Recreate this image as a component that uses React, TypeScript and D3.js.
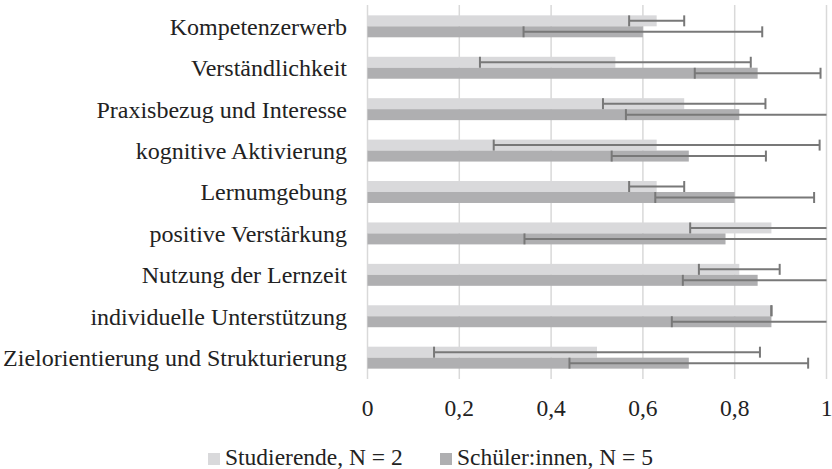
import React, { useEffect, useRef } from 'react';
import { scaleLinear, scaleBand, select } from 'd3';

const categories = [
	'Kompetenzerwerb',
	'Verständlichkeit',
	'Praxisbezug und Interesse',
	'kognitive Aktivierung',
	'Lernumgebung',
	'positive Verstärkung',
	'Nutzung der Lernzeit',
	'individuelle Unterstützung',
	'Zielorientierung und Strukturierung',
];
const seriesNames = ['Studierende, N = 2', 'Schüler:innen, N = 5'];
const studierende = [0.63, 0.54, 0.69, 0.63, 0.63, 0.88, 0.81, 0.88, 0.5];
const studierendeErr = [0.06, 0.295, 0.177, 0.355, 0.06, 0.177, 0.088, 0, 0.355];
const schueler = [0.6, 0.85, 0.81, 0.7, 0.8, 0.78, 0.85, 0.88, 0.7];
const schuelerErr = [0.26, 0.137, 0.247, 0.168, 0.173, 0.438, 0.163, 0.217, 0.26];
const tickValues = [0, 0.2, 0.4, 0.6, 0.8, 1];
const tickLabels = ['0', '0,2', '0,4', '0,6', '0,8', '1'];

const colors = ['#d9d9db', '#afafb1'];
const font =
	"'Times New Roman', Times, 'Liberation Serif', 'Nimbus Roman', 'Noto Serif', 'DejaVu Serif', FreeSerif, serif";

export default function App() {
	const node = useRef(null);

	useEffect(() => {
		const svg = select(node.current);
		svg.selectAll('*').remove();

		const x = scaleLinear().domain([0, 1]).range([367.5, 826.5]);
		const y = scaleBand()
			.domain(categories)
			.range([5, 379])
			.paddingInner(0.47)
			.paddingOuter(0.25);
		const sub = scaleBand().domain(seriesNames).range([0, y.bandwidth()]);

		// gridlines
		svg.append('g')
			.selectAll('line')
			.data(tickValues)
			.enter()
			.append('line')
			.attr('x1', (d) => x(d))
			.attr('x2', (d) => x(d))
			.attr('y1', 5)
			.attr('y2', 379)
			.attr('stroke', '#d9d9d9')
			.attr('stroke-width', 1.5);

		const series = [
			{ name: seriesNames[0], values: studierende, err: studierendeErr, color: colors[0] },
			{ name: seriesNames[1], values: schueler, err: schuelerErr, color: colors[1] },
		];

		series.forEach((s) => {
			svg.append('g')
				.selectAll('rect')
				.data(categories)
				.enter()
				.append('rect')
				.attr('x', x(0))
				.attr('y', (c) => y(c) + sub(s.name))
				.attr('width', (c, i) => x(s.values[i]) - x(0))
				.attr('height', sub.bandwidth())
				.attr('fill', s.color);
		});

		// error bars, clipped at 1 without a cap
		series.forEach((s) => {
			const g = svg.append('g').attr('stroke', '#787878').attr('stroke-width', 2);
			categories.forEach((c, i) => {
				const lo = s.values[i] - s.err[i];
				const hi = s.values[i] + s.err[i];
				const top = y(c) + sub(s.name);
				const cy = top + sub.bandwidth() / 2;
				g.append('line')
					.attr('x1', x(Math.max(0, lo)))
					.attr('x2', x(Math.min(1, hi)))
					.attr('y1', cy)
					.attr('y2', cy);
				[lo, hi].forEach((v) => {
					if (v < 0 || v > 1) return;
					g.append('line')
						.attr('x1', x(v))
						.attr('x2', x(v))
						.attr('y1', top)
						.attr('y2', top + sub.bandwidth());
				});
			});
		});

		const txt = (sel, size) =>
			sel.style('font-family', font).style('font-size', size + 'px').attr('fill', '#222');

		svg.append('g')
			.selectAll('text')
			.data(categories)
			.enter()
			.append('text')
			.attr('x', 347)
			.attr('y', (c) => y(c) + y.bandwidth() / 2)
			.attr('dy', '0.35em')
			.attr('text-anchor', 'end')
			.call(txt, 24)
			.text((c) => c);

		svg.append('g')
			.selectAll('text')
			.data(tickValues)
			.enter()
			.append('text')
			.attr('x', (d) => x(d))
			.attr('y', 407.5)
			.attr('dy', '0.35em')
			.attr('text-anchor', 'middle')
			.call(txt, 23.5)
			.text((d, i) => tickLabels[i]);

		// legend
		const legendX = [208, 440];
		const legend = svg.append('g');
		seriesNames.forEach((n, i) => {
			legend.append('rect')
				.attr('x', legendX[i])
				.attr('y', 453)
				.attr('width', 12)
				.attr('height', 12)
				.attr('fill', colors[i]);
			legend.append('text')
				.attr('x', legendX[i] + 17)
				.attr('y', 457)
				.attr('dy', '0.35em')
				.call(txt, 23.5)
				.text(n);
		});
	}, []);

	return (
		<svg
			ref={node}
			width={832}
			height={469}
			style={{ position: 'absolute', left: 0, top: 0, background: '#fff' }}
		/>
	);
}
